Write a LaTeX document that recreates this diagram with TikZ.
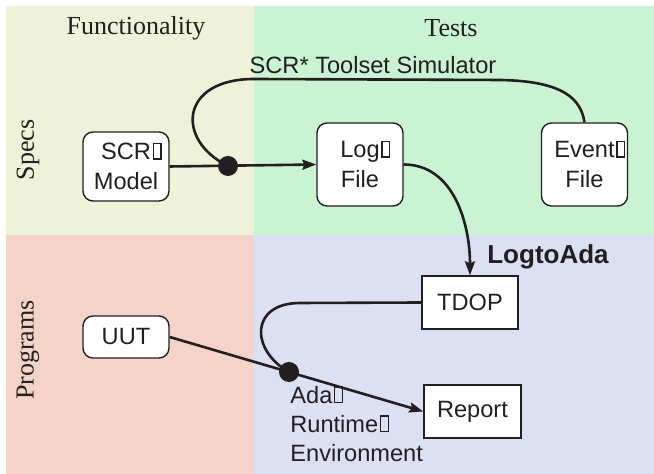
\documentclass[tikz,border=0pt]{standalone}
\usepackage{fontspec}
\setmainfont{Liberation Serif}
\setsansfont{Liberation Sans}
\usetikzlibrary{arrows.meta, positioning}
\definecolor{funcspec}{RGB}{237,242,216}
\definecolor{testspec}{RGB}{201,243,210}
\definecolor{funcprog}{RGB}{244,211,200}
\definecolor{testprog}{RGB}{220,224,243}
\definecolor{ink}{RGB}{35,31,32}
% the empty glyph box that follows some words
\newcommand{\gapbox}{\rlap{\kern0.8pt\vrule width0.7pt height7.8pt depth0pt\kern-0.7pt\vbox{\hrule width4.6pt height0.7pt\vskip7.1pt\hrule width4.6pt height0.7pt}\kern-0.7pt\vrule width0.7pt height7.8pt depth0pt}}

\begin{document}
\begin{tikzpicture}[x=0.5pt, y=-0.5pt, ink,
    box/.style={draw=ink, fill=white, line width=0.7pt, text=ink,
      font=\sffamily\fontsize{11.8}{15}\selectfont, align=center, inner sep=1pt},
    rbox/.style={box, rounded corners=5pt},
    dot/.style={circle, fill=ink, inner sep=0pt, minimum size=10pt},
    head/.style={font=\fontsize{13}{15}\selectfont},
    link/.style={line width=1.3pt, draw=ink},
    arr/.style={link, -{Stealth[length=7pt,width=5pt,inset=1pt]}}]
  \useasboundingbox (0,0) rectangle (654,474);

  % quadrants
  \fill[funcspec] (6,6) rectangle (254,235);
  \fill[testspec] (254,6) rectangle (654,235);
  \fill[funcprog] (6,235) rectangle (254,474);
  \fill[testprog] (254,235) rectangle (654,474);

  \node[head] (func) at (136,28) {Functionality};
  \node[head] (tests) at (451,28) {Tests};
  \node[head, rotate=90] (specs) at (28,150) {Specs};
  \node[head, rotate=90] (progs) at (28,350) {Programs};

  % boxes
  \node[rbox, minimum width=43pt, minimum height=34.5pt] (scr) at (126,166.5) {SCR\gapbox\\Model};
  \node[rbox, minimum width=43pt, minimum height=41.5pt] (log) at (360,164.5) {Log\gapbox\\File};
  \node[rbox, minimum width=43pt, minimum height=41.5pt] (event) at (584.5,164.5) {Event\gapbox\\File};
  \node[box, minimum width=48pt, minimum height=26.5pt] (tdop) at (470,302.5) {TDOP};
  \node[rbox, minimum width=43pt, minimum height=21pt] (uut) at (126,337) {UUT};
  \node[box, minimum width=48.5pt, minimum height=26.5pt] (report) at (472.5,411.5) {Report};

  \coordinate (dot1) at (228,166);
  \coordinate (dot2) at (289,372);
  \coordinate (simleft) at (254,79);
  \coordinate (simright) at (500,80);
  \coordinate (tdopturn) at (300,303);

  % connectors
  \draw[arr] (scr.east) -- (log.west);
  \draw[link] (dot1) .. controls (175,140) and (180,79) .. (simleft) -- (simright)
    .. controls (565,81) and (581,100) .. (event.north);
  \draw[arr] (log.east) to[out=0, in=90] (tdop.north);
  \draw[link] (tdop.west) -- (tdopturn) .. controls (250,303) and (250,350) .. (dot2);
  \draw[arr] (uut.east) -- (report.west);
  \node[dot] at (dot1) {};
  \node[dot] at (dot2) {};

  % labels
  \node[font=\sffamily\fontsize{11.8}{15}\selectfont] (sim) at (373,65) {SCR* Toolset Simulator};
  \node[font=\sffamily\bfseries\fontsize{13}{15}\selectfont] (logtoada) at (548,257) {LogtoAda};
  \node[anchor=north west, align=left, inner sep=0pt, font=\sffamily\fontsize{11.8}{14.5}\selectfont]
    (ada) at (290,386) {Ada\gapbox\\Runtime\gapbox\\Environment};
\end{tikzpicture}
\end{document}
